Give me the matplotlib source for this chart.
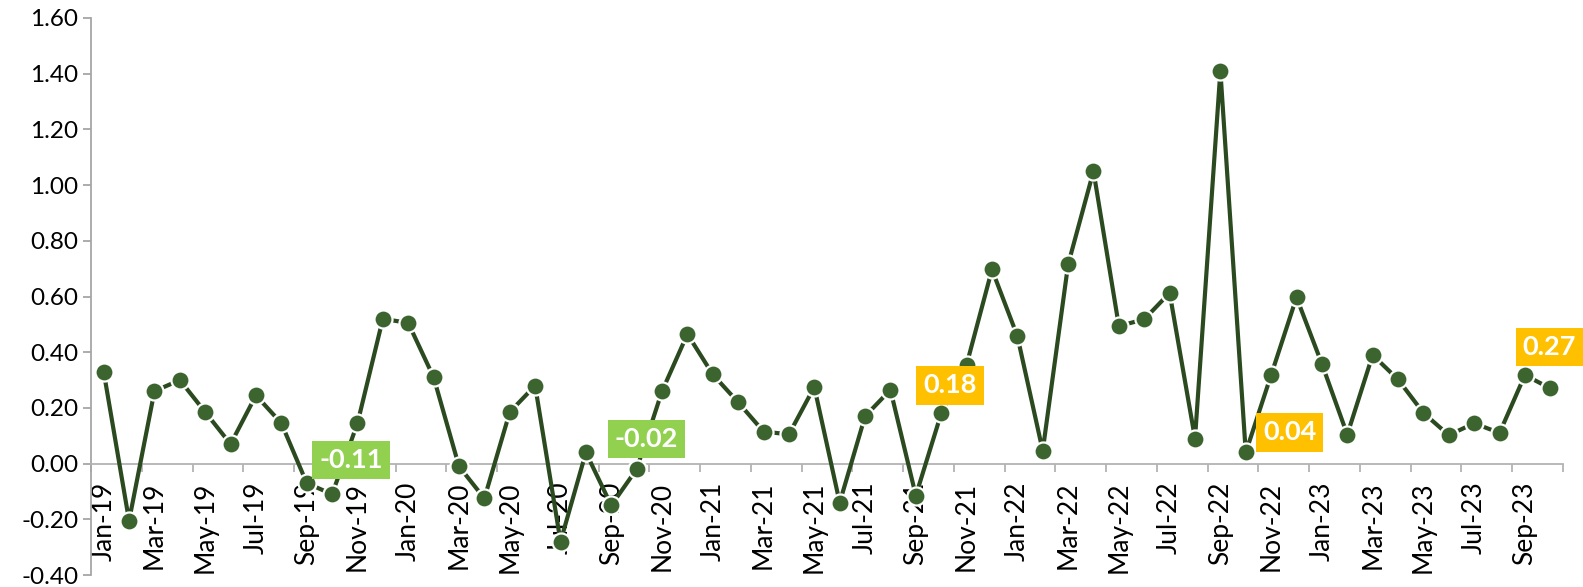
import matplotlib
matplotlib.use('Agg')
import matplotlib.pyplot as plt
from matplotlib.ticker import FixedLocator, FixedFormatter, FuncFormatter, NullFormatter

plt.rcParams['font.family'] = ['Lato', 'DejaVu Sans']

# monthly values, Jan-19 .. Oct-23
months = ['Jan', 'Feb', 'Mar', 'Apr', 'May', 'Jun', 'Jul', 'Aug', 'Sep', 'Oct', 'Nov', 'Dec']
labels = []
for yr in range(19, 24):
    for m in months:
        labels.append(f'{m}-{yr}')
labels = labels[:58]

values = [
    0.33, -0.205, 0.26, 0.30, 0.185, 0.07, 0.245, 0.145, -0.07, -0.11, 0.145, 0.52,
    0.505, 0.31, -0.01, -0.125, 0.185, 0.28, -0.28, 0.04, -0.15, -0.02, 0.26, 0.465,
    0.32, 0.22, 0.115, 0.105, 0.275, -0.14, 0.17, 0.265, -0.115, 0.18, 0.355, 0.697,
    0.458, 0.046, 0.715, 1.05, 0.494, 0.518, 0.613, 0.09, 1.41, 0.04, 0.318, 0.597,
    0.358, 0.104, 0.39, 0.302, 0.182, 0.102, 0.145, 0.11, 0.318, 0.27,
]

# highlighted October labels
callouts = ['Oct-19', 'Oct-20', 'Oct-21', 'Oct-22', 'Oct-23']
callout_text = ['-0.11', '-0.02', '0.18', '0.04', '0.27']
callout_color = ['#92d050', '#92d050', '#ffc000', '#ffc000', '#ffc000']
callout_offset = [(19, 34), (10, 30), (9, 28), (44, 20), (-1, 41)]  # pixels

fig = plt.figure(figsize=(15.83, 5.87), dpi=100)
ax = fig.add_axes([91 / 1583, 12 / 587, 1472 / 1583, 557 / 587])

x = list(range(len(values)))
ax.plot(x, values, color='#2b4a20', lw=3.0, marker='o', markersize=13,
        markerfacecolor='#3c642f', markeredgecolor='white', markeredgewidth=1.6,
        solid_joinstyle='miter', zorder=3)

for name, txt, col, (dx, dy) in zip(callouts, callout_text, callout_color, callout_offset):
    i = labels.index(name)
    ax.annotate(txt, (i, values[i]), xytext=(dx * 0.72, dy * 0.72),
                textcoords='offset points', ha='center', va='center',
                color='white', fontsize=19.5, fontweight='bold', zorder=5,
                bbox=dict(boxstyle='square,pad=0.26', fc=col, ec='none'))

ax.set_xlim(-0.5, len(values) - 0.5)
ax.set_ylim(-0.4, 1.6)
ax.set_yticks([-0.4 + 0.2 * k for k in range(11)])
ax.yaxis.set_major_formatter(FuncFormatter(lambda v, p: f'{v:.2f}'))

# ticks between categories, labels on every second month
ax.xaxis.set_major_locator(FixedLocator([k - 0.5 for k in range(0, len(values) + 1, 2)]))
ax.xaxis.set_major_formatter(NullFormatter())
ax.xaxis.set_minor_locator(FixedLocator(list(range(0, len(values), 2))))
ax.xaxis.set_minor_formatter(FixedFormatter(labels[::2]))

for s in ['top', 'right']:
    ax.spines[s].set_visible(False)
ax.spines['bottom'].set_position(('data', 0))
ax.spines['bottom'].set_color('#b3b3b3')
ax.spines['left'].set_color('#a6a6a6')
ax.spines['bottom'].set_linewidth(1.3)
ax.spines['left'].set_linewidth(1.3)

ax.tick_params(axis='x', which='major', direction='out', length=6, width=1.3, color='#b3b3b3')
ax.tick_params(axis='x', which='minor', length=0, pad=13, labelsize=19, labelrotation=90)
ax.tick_params(axis='y', direction='out', length=6, width=1.3, color='#a6a6a6',
               pad=3, labelsize=17.5)

fig.savefig('out.png', dpi=100)
